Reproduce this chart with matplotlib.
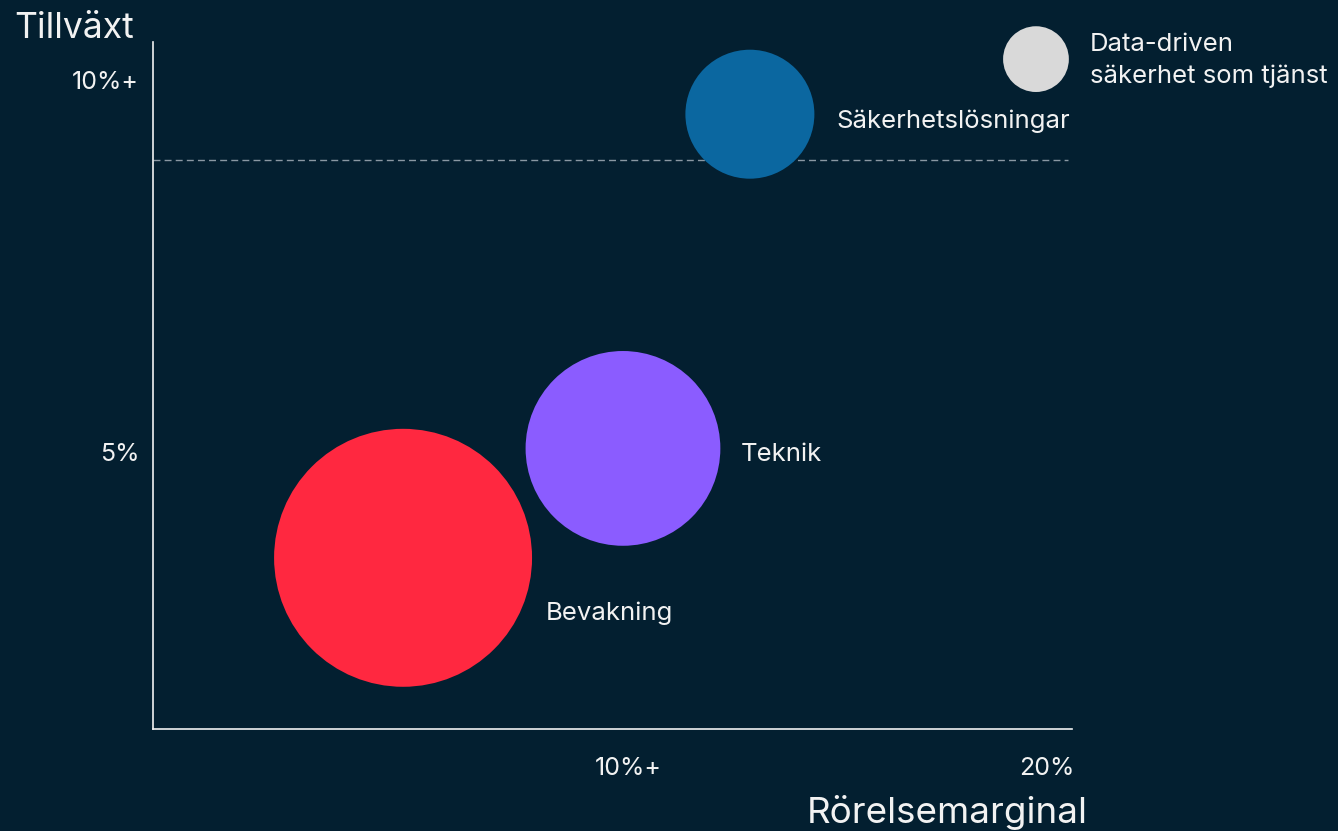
import matplotlib
matplotlib.use('Agg')
from matplotlib import pyplot as plt

# segment data: operating margin (x, %), growth (y, %), relative size
segments = ['Säkerhetslösningar', 'Teknik', 'Bevakning', 'Data-driven\nsäkerhet som tjänst']
margin = [12.91, 9.88, 4.63, 19.74]
growth = [9.54, 5.05, 3.58, 10.28]
size = [25, 57, 100, 6.5]
colors = ['#0b67a0', '#8b5cff', '#ff2840', '#d9d9d9']

x_ticks = [10, 20]
x_labels = ['10%+', '20%']
y_ticks = [5, 10]
y_labels = ['5%', '10%+']
target_growth = 8.92

# label offsets from bubble centre, in pixels
label_dx = [87, 118, 143, 54]
label_dy = [-7, -6, -55, -1]

bg = '#031f30'
fg = '#f2f2f2'
plt.rcParams['font.family'] = ['Inter', 'DejaVu Sans']


def main():
    fig = plt.figure(figsize=(13.38, 8.31), dpi=100, facecolor=bg)
    ax = fig.add_axes([153 / 1338, 102 / 831, 919 / 1338, 687 / 831])
    ax.set_facecolor(bg)
    ax.set_xlim(-1.34, 20.6)
    ax.set_ylim(1.28, 10.51)

    for side in ['top', 'right']:
        ax.spines[side].set_visible(False)
    for side in ['left', 'bottom']:
        ax.spines[side].set_color(fg)
        ax.spines[side].set_linewidth(1.2)

    ax.set_xticks(x_ticks)
    ax.set_xticklabels(x_labels)
    ax.set_yticks(y_ticks)
    ax.set_yticklabels(y_labels)
    ax.tick_params(axis='both', length=0, labelsize=18, labelcolor=fg)
    ax.tick_params(axis='y', pad=10)
    ax.tick_params(axis='x', pad=20)

    ax.hlines(target_growth, -1.34, 20.5, color='#8a98a3', lw=1,
              linestyles=(0, (5, 3)), zorder=1)

    k = 345
    ax.scatter(margin, growth, s=[v * k for v in size], c=colors,
               linewidths=0, zorder=2, clip_on=False)

    for name, x, y, dx, dy in zip(segments, margin, growth, label_dx, label_dy):
        ax.annotate(name, (x, y), xytext=(dx * 0.72, dy * 0.72),
                    textcoords='offset points', ha='left', va='center',
                    color=fg, fontsize=18.5, linespacing=1.45,
                    annotation_clip=False)

    fig.text(14 / 1338, 1 - 28 / 831, 'Tillväxt', ha='left', va='center',
             color=fg, fontsize=25.6)
    fig.text(1088 / 1338, 1 - 812 / 831, 'Rörelsemarginal', ha='right', va='center',
             color=fg, fontsize=26.5)

    fig.savefig('out.png', dpi=100, facecolor=bg)


if __name__ == '__main__':
    main()
